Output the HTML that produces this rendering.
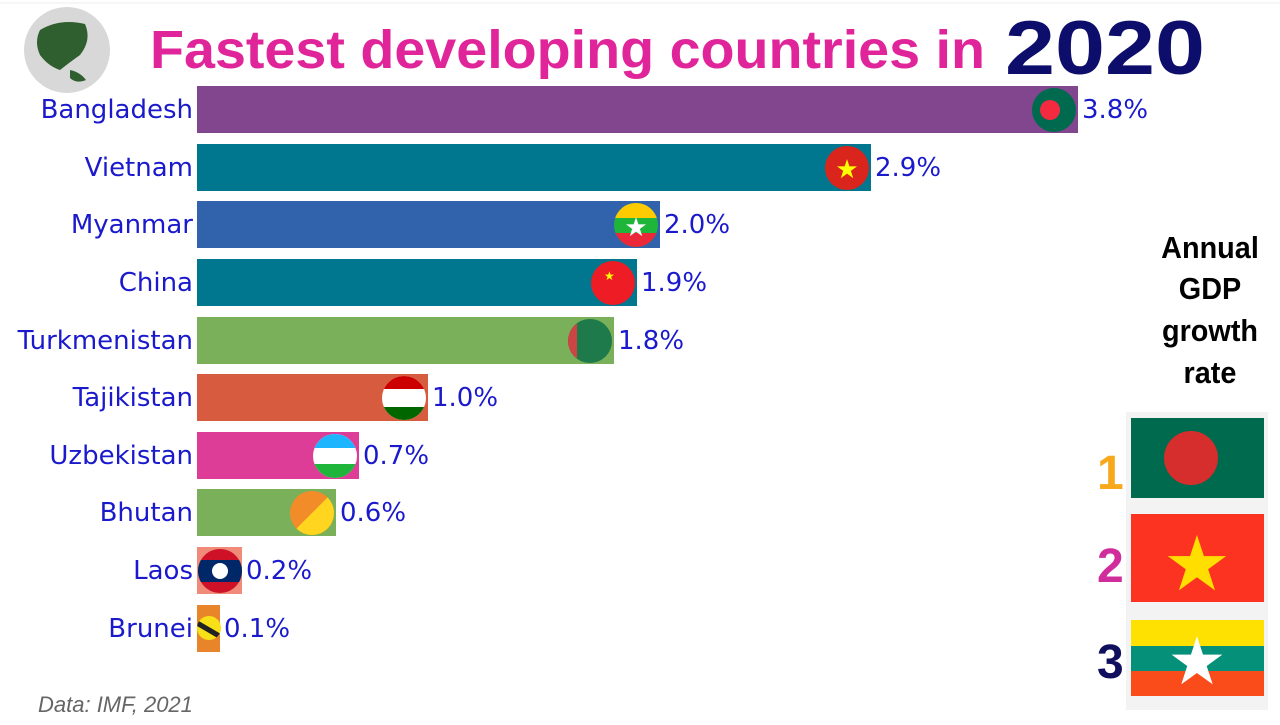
<!DOCTYPE html>
<html><head><meta charset="utf-8"><style>
body{margin:0;width:1280px;height:720px;background:#fff;overflow:hidden;font-family:"Liberation Sans",sans-serif}
</style></head><body>
<svg width="1280" height="720" viewBox="0 0 1280 720" xmlns="http://www.w3.org/2000/svg" font-family="Liberation Sans, sans-serif">
<defs>
<clipPath id="c1"><circle cx="636" cy="225" r="22"/></clipPath>
<clipPath id="c2"><circle cx="404" cy="398" r="22"/></clipPath>
<clipPath id="c3"><circle cx="335" cy="456" r="22"/></clipPath>
<clipPath id="c4"><circle cx="312" cy="513" r="22"/></clipPath>
<clipPath id="c5"><circle cx="220" cy="571" r="22"/></clipPath>
<clipPath id="c6"><circle cx="590" cy="341" r="22"/></clipPath>
<clipPath id="c7"><circle cx="209" cy="628" r="12"/></clipPath>
</defs>
<line x1="0" y1="3" x2="1280" y2="3" stroke="#eee"/>
<circle cx="67" cy="50" r="43" fill="#d8d8d8"/>
<path d="M40 30 Q60 18 85 24 Q92 40 80 55 Q70 62 60 70 Q48 66 40 55 Q34 42 40 30Z" fill="#2f5e2f"/>
<path d="M70 70 Q80 72 86 80 Q76 84 70 78Z" fill="#2f5e2f"/>
<text x="150" y="68" font-size="54" font-weight="bold" fill="#e0259a" textLength="835" lengthAdjust="spacingAndGlyphs">Fastest developing countries in</text>
<text x="1005" y="74" font-size="76" font-weight="bold" fill="#0d0d6b" textLength="200" lengthAdjust="spacingAndGlyphs">2020</text>
<g font-size="26" fill="#1a1acc" text-anchor="end" font-family="DejaVu Sans, sans-serif">
<text x="193" y="118">Bangladesh</text>
<text x="193" y="176">Vietnam</text>
<text x="193" y="233">Myanmar</text>
<text x="193" y="291">China</text>
<text x="193" y="349">Turkmenistan</text>
<text x="193" y="406">Tajikistan</text>
<text x="193" y="464">Uzbekistan</text>
<text x="193" y="521">Bhutan</text>
<text x="193" y="579">Laos</text>
<text x="193" y="637">Brunei</text>
</g>
<rect x="197" y="86" width="881" height="47" fill="#82468e"/>
<rect x="197" y="144" width="674" height="47" fill="#00768f"/>
<rect x="197" y="201" width="463" height="47" fill="#3163ad"/>
<rect x="197" y="259" width="440" height="47" fill="#00768f"/>
<rect x="197" y="317" width="417" height="47" fill="#7ab05a"/>
<rect x="197" y="374" width="231" height="47" fill="#d75b3e"/>
<rect x="197" y="432" width="162" height="47" fill="#de3d97"/>
<rect x="197" y="489" width="139" height="47" fill="#7ab05a"/>
<rect x="197" y="547" width="45" height="47" fill="#f08b7a"/>
<rect x="197" y="605" width="23" height="47" fill="#e8852a"/>
<circle cx="1054" cy="110" r="22" fill="#006a4e"/><circle cx="1050" cy="110" r="10" fill="#f42a41"/>
<circle cx="847" cy="168" r="22" fill="#da251d"/><text x="847" y="178" font-size="26" fill="#ff0" text-anchor="middle">★</text>
<g clip-path="url(#c1)"><rect x="614" y="203" width="44" height="44" fill="#1eb53a"/><rect x="614" y="203" width="44" height="15" fill="#fecb00"/><rect x="614" y="233" width="44" height="15" fill="#ea2839"/></g><text x="636" y="236" font-size="26" fill="#fff" text-anchor="middle">★</text>
<circle cx="613" cy="283" r="22" fill="#ee1c25"/><text x="604" y="280" font-size="12" fill="#ff0">★</text>
<g clip-path="url(#c6)"><rect x="568" y="319" width="44" height="44" fill="#1e7a4a"/><rect x="568" y="319" width="9" height="44" fill="#c44"/></g>
<g clip-path="url(#c2)"><rect x="382" y="376" width="44" height="44" fill="#fff"/><rect x="382" y="376" width="44" height="13" fill="#cc0000"/><rect x="382" y="407" width="44" height="13" fill="#006600"/></g>
<g clip-path="url(#c3)"><rect x="313" y="434" width="44" height="44" fill="#fff"/><rect x="313" y="434" width="44" height="14" fill="#1eb5ff"/><rect x="313" y="464" width="44" height="14" fill="#1eb53a"/></g>
<g clip-path="url(#c4)"><rect x="290" y="491" width="44" height="44" fill="#f28c28"/><path d="M290 535 L334 491 L334 535Z" fill="#ffd520"/></g>
<g clip-path="url(#c5)"><rect x="198" y="549" width="44" height="44" fill="#ce1126"/><rect x="198" y="560" width="44" height="22" fill="#002868"/></g><circle cx="220" cy="571" r="8" fill="#fff"/>
<g clip-path="url(#c7)"><rect x="197" y="616" width="24" height="24" fill="#f7e017"/><path d="M197 620 L221 634 L221 640 L197 626Z" fill="#222"/></g>
<g font-size="26" fill="#1a1acc" font-family="DejaVu Sans, sans-serif">
<text x="1082" y="118">3.8%</text>
<text x="875" y="176">2.9%</text>
<text x="664" y="233">2.0%</text>
<text x="641" y="291">1.9%</text>
<text x="618" y="349">1.8%</text>
<text x="432" y="406">1.0%</text>
<text x="363" y="464">0.7%</text>
<text x="340" y="521">0.6%</text>
<text x="246" y="579">0.2%</text>
<text x="224" y="637">0.1%</text>
</g>
<g font-size="31" font-weight="bold" fill="#000" text-anchor="middle" transform="translate(1210,0) scale(0.93,1)">
<text x="0" y="258">Annual</text>
<text x="0" y="299">GDP</text>
<text x="0" y="341">growth</text>
<text x="0" y="383">rate</text>
</g>
<rect x="1126" y="412" width="142" height="298" fill="#f3f3f4"/>
<rect x="1131" y="418" width="133" height="80" fill="#006a4e"/><circle cx="1191" cy="458" r="27" fill="#d62d2d"/>
<rect x="1131" y="514" width="133" height="88" fill="#fd3322"/><text x="1197" y="590" font-size="76" fill="#ffde00" text-anchor="middle">★</text>
<rect x="1131" y="620" width="133" height="26" fill="#fee100"/><rect x="1131" y="646" width="133" height="25" fill="#05907a"/><rect x="1131" y="671" width="133" height="25" fill="#fa4b1b"/>
<text x="1197" y="684" font-size="66" fill="#fff" text-anchor="middle">★</text>
<g font-size="48" font-weight="bold">
<text x="1097" y="489" fill="#f7a81b">1</text>
<text x="1097" y="582" fill="#d02c9c">2</text>
<text x="1097" y="678" fill="#0f0f5e">3</text>
</g>
<text x="38" y="712" font-size="22" font-style="italic" fill="#666">Data: IMF, 2021</text>
</svg>
</body></html>
